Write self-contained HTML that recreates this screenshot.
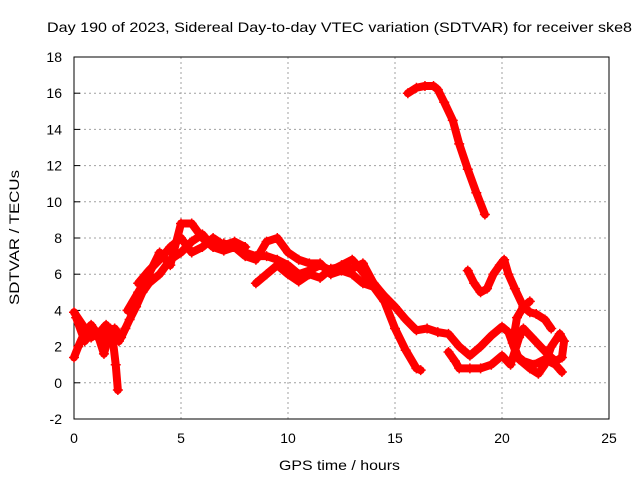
<!DOCTYPE html>
<html><head><meta charset="utf-8"><style>
body{margin:0;background:#fff}
svg text{font-family:"Liberation Sans",sans-serif;font-size:14px;fill:#000}
</style></head><body>
<svg id="chart" width="640" height="480" xmlns="http://www.w3.org/2000/svg">
<rect x="0" y="0" width="640" height="480" fill="#fff"/>
<g id="grid"></g>
<g id="axes"></g>
<g id="series"></g>
<text x="47" y="32" textLength="585" lengthAdjust="spacingAndGlyphs">Day 190 of 2023, Sidereal Day-to-day VTEC variation (SDTVAR) for receiver ske8</text>
<text x="279" y="470" textLength="121" lengthAdjust="spacingAndGlyphs">GPS time / hours</text>
<text transform="translate(19,305) rotate(-90)" textLength="135" lengthAdjust="spacingAndGlyphs">SDTVAR / TECUs</text>
</svg>
<script>
const xTicks=[0,5,10,15,20,25];
const yTicks=[-2,0,2,4,6,8,10,12,14,16,18];
const trackA=[[0,1.4],[0.2,2.0],[0.5,2.8],[0.8,3.2],[1.1,2.7],[1.4,1.6],[1.6,2.5],[1.9,3.0],[2.2,2.5],[2.6,3.5],[2.9,4.2],[3.2,5.0],[3.5,5.5],[4.0,6.0],[4.5,6.8],[5.0,7.2],[5.5,7.8],[6.0,8.2],[6.5,7.5],[7.0,7.7],[7.5,7.5],[8,7.2],[8.5,7.0],[9,7.0],[9.5,6.8],[10,6.5],[10.5,6.0],[11,6.2],[11.5,6.5],[12,6.2],[12.5,6.5],[13,6.8],[13.3,6.4],[13.7,5.8],[14,5.5],[14.5,4.8],[15,4.2],[15.5,3.5],[16,2.9],[16.5,3.0],[17,2.8],[17.5,2.7],[18,2.0],[18.5,1.5],[19,2.0],[19.5,2.6],[20,3.1],[20.3,2.8],[20.7,1.5],[21,1.2],[21.5,1.0],[22,1.3],[22.5,1.0],[22.8,0.6]];
const trackB=[[0,3.9],[0.4,3.2],[0.8,2.5],[1.2,2.8],[1.5,3.2],[1.8,2.5],[1.95,1.0],[2.05,-0.4]];
const trackC=[[2.5,4.0],[3,5],[3.5,6],[4,7.2],[4.5,6.5],[5,8.8],[5.5,8.8],[6,8.0],[6.5,7.5],[7,7.3],[7.5,7.5],[8,7.0],[8.5,6.8],[9.0,7.8],[9.5,8.0],[10,7.2],[10.5,6.8],[11,6.6],[11.5,6.6],[12,6.0],[12.5,6.2],[13,6.0],[13.5,5.5],[14,5.3],[14.5,4.5],[15,3.0],[15.5,1.8],[16,0.8],[16.2,0.7]];
const trackD=[[8.5,5.5],[9,6.0],[9.5,6.5],[10,6.0],[10.5,5.6],[11,6.0],[11.5,5.8],[12,6.3],[12.5,6.4],[13,6.3],[13.5,6.6],[14,5.5]];
const trackE=[[15.6,16.0],[16,16.3],[16.4,16.4],[16.8,16.4],[17,16.2],[17.3,15.5],[17.7,14.5],[18,13.2],[18.4,11.8],[18.8,10.5],[19.2,9.3]];
const trackF=[[18.4,6.2],[18.7,5.5],[19,5.0],[19.3,5.2],[19.6,6.0],[19.9,6.5],[20.1,6.8],[20.3,6.0],[20.6,5.2],[21,4.2],[21.3,3.9],[21.6,3.8],[22,3.5],[22.3,3.0]];
const trackG=[[17.5,1.7],[17.8,1.2],[18,0.8],[18.5,0.8],[19,0.8],[19.5,1.0],[20,1.5],[20.4,1.0],[20.8,2.5],[21.0,3.0],[21.4,2.5],[21.8,2.0],[22.2,1.5],[22.5,1.2],[22.8,1.4],[22.9,2.3],[22.7,2.7],[22.3,2.0],[22,1.0],[21.7,0.5],[21.3,0.8],[20.8,1.3],[20.5,2.2],[20.7,3.6],[21.0,4.2],[21.3,4.5]];
const trackH=[[3,5.5],[3.5,6.2],[4,6.8],[4.5,7.5],[5,8.0],[5.5,7.2],[6,7.5],[6.5,8.0],[7,7.6],[7.5,7.8],[8,7.5]];
const trackI=[[0.1,3.6],[0.5,2.3],[0.9,2.9],[1.3,2.2],[1.7,3.0],[2.1,2.3],[2.4,3.0]];
const tracks=[trackA,trackB,trackC,trackD,trackE,trackF,trackG,trackH,trackI];

const L=74,R=609,T=57,B=419,xmin=0,xmax=25,ymin=-2,ymax=18;
const xs=v=>L+(v-xmin)/(xmax-xmin)*(R-L);
const ys=v=>B-(v-ymin)/(ymax-ymin)*(B-T);
const NS="http://www.w3.org/2000/svg";
function mk(tag,attrs,parent){const e=document.createElementNS(NS,tag);for(const k in attrs)e.setAttribute(k,attrs[k]);parent.appendChild(e);return e;}
const grid=document.getElementById('grid'),axes=document.getElementById('axes'),ser=document.getElementById('series');
xTicks.forEach(t=>{
  const x=xs(t);
  if(t>xmin&&t<xmax){const g=mk('line',{x1:x,x2:x,y1:T,y2:B,stroke:'#a0a0a0','stroke-dasharray':'2,3'},grid);
  
  }
  const tx=mk('text',{x:x,y:B+24,'text-anchor':'middle'},axes);tx.textContent=t;
  
  
});
yTicks.forEach(t=>{
  const y=ys(t);
  if(t>ymin&&t<ymax){const g=mk('line',{x1:L,x2:R,y1:y,y2:y,stroke:'#a0a0a0','stroke-dasharray':'2,3'},grid);
  
  }
  mk('line',{x1:L,x2:L+6,y1:y,y2:y,stroke:'#000'},axes);
  const tx=mk('text',{x:L-12,y:y+5,'text-anchor':'end'},axes);tx.textContent=t;
  
  
});
mk('rect',{x:L,y:T,width:R-L,height:B-T,fill:'none',stroke:'#000'},axes);
tracks.forEach((tr,i)=>{
  const pl=mk('polyline',{points:tr.map(p=>xs(p[0])+','+ys(p[1])).join(' '),fill:'none',stroke:'#ff0000','stroke-width':8,'stroke-linejoin':'round','stroke-linecap':'round'},ser);
  
  
  tr.forEach(p=>{
    const x=xs(p[0]),y=ys(p[1]);
    const m=mk('path',{d:`M${x-5},${y}H${x+5}M${x},${y-5}V${y+5}`,stroke:'#ff0000','stroke-width':1.5},ser);
    
    
  });
});
</script>
</body></html>
